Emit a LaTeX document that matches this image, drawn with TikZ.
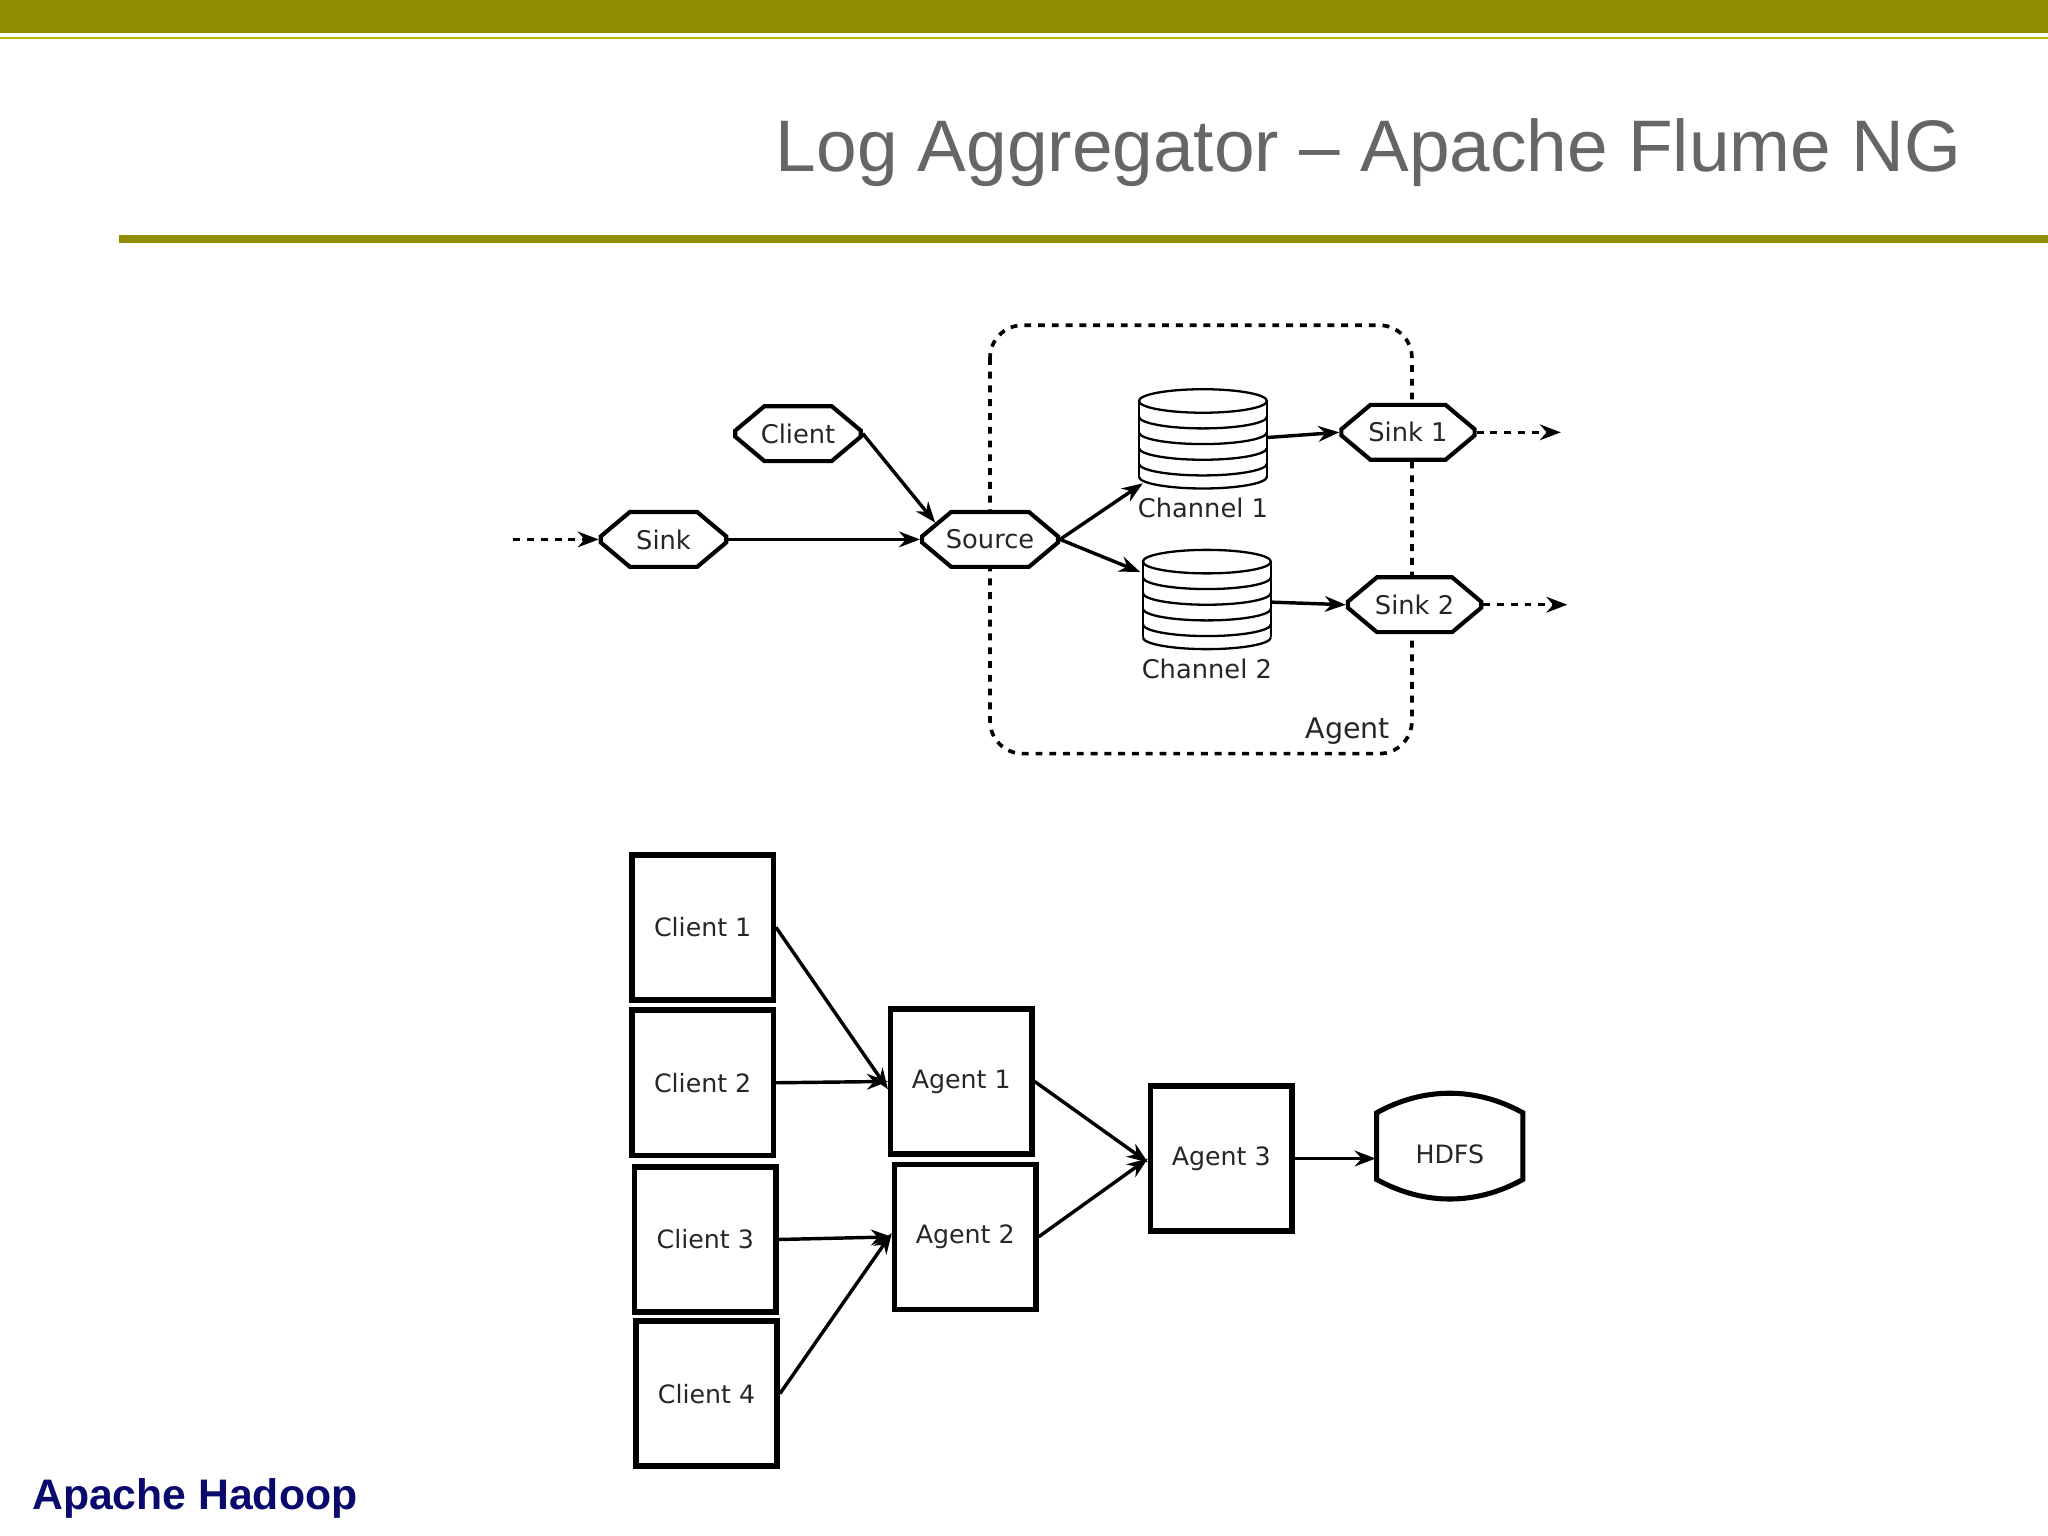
\documentclass[tikz,border=0pt]{standalone}
\usepackage{fontspec}
\setmainfont{DejaVu Sans}
\newfontfamily\arialf{Liberation Sans}
\usetikzlibrary{arrows.meta,shapes.misc}
\definecolor{olive}{HTML}{8E8E00}
\definecolor{navy}{HTML}{0A0A6E}
\tikzset{
  hexnode/.style={draw,line width=0.9pt,chamfered rectangle,chamfered rectangle xsep=0.07cm,chamfered rectangle angle=50,minimum height=0.42cm,inner ysep=0pt,inner xsep=0.06cm,font=\fontsize{5.6pt}{6.5pt}\selectfont,text=black!85,fill=white},
  boxnode/.style={draw,line width=1.2pt,minimum width=1.08cm,minimum height=1.11cm,font=\fontsize{5.5pt}{7pt}\selectfont,text=black!85},
  arr/.style={line width=0.75pt,-{Stealth[length=0.16cm,width=0.12cm]}},
  darr/.style={arr,dash pattern=on 1.5pt off 1.5pt},
  lbl/.style={font=\fontsize{5.6pt}{7pt}\selectfont,text=black!85}
}
\newcommand{\chanstack}[3]{% x, ytop, name
  \fill[white] (#1-49,#2) rectangle (#1+49,#2+60);
  \draw[line width=0.5pt] (#1-49,#2) -- (#1-49,#2+58) (#1+49,#2) -- (#1+49,#2+58);
  \draw[line width=0.5pt] (#1,#2) ellipse[x radius=49,y radius=9];
  \foreach \k in {12,24,36,48,58}{
    \draw[line width=0.5pt] (#1-49,#2+\k) arc[start angle=180,end angle=360,x radius=49,y radius=-9];}
  \coordinate (#3) at (#1,#2+30);
}
\begin{document}
\begin{tikzpicture}[x=0.01cm,y=-0.01cm]
\useasboundingbox (0,0) rectangle (1568,1176);
\fill[olive] (0,0) rectangle (1568,25);
\fill[olive!60!yellow] (0,28) rectangle (1568,30);
\node[anchor=east,text=black!60,font=\arialf\fontsize{15.9pt}{19pt}\selectfont] (title) at (1514,117) {Log Aggregator – Apache Flume NG};
\fill[olive] (91,180) rectangle (1568,186);
\node[anchor=west,inner sep=0pt,text=navy,font=\arialf\bfseries\fontsize{9.3pt}{11pt}\selectfont] (foot) at (24,1147) {Apache Hadoop};

% agent box
\draw[line width=0.8pt,dash pattern=on 1.5pt off 1.5pt,rounded corners=0.25cm] (758,249) rectangle (1081,577);
\node[lbl,font=\fontsize{6.2pt}{7pt}\selectfont] (agentlbl) at (1032,560) {Agent};

\chanstack{921}{307}{ch1}
\chanstack{924}{430}{ch2}
\node[lbl] (ch1l) at (921,389) {Channel 1};
\node[lbl] (ch2l) at (924,512) {Channel 2};
\coordinate (ch1e) at (970,335);
\coordinate (ch1w) at (875,370);
\coordinate (ch2e) at (973,461);
\coordinate (ch2w) at (873,438);

\node[hexnode,minimum width=0.96cm] (sink) at (508,413) {Sink};
\node[hexnode,minimum width=0.96cm] (client) at (611,332) {Client};
\node[hexnode,minimum width=1.04cm] (source) at (758,413) {Source};
\node[hexnode,minimum width=1.02cm] (sink1) at (1078,331) {Sink 1};
\node[hexnode,minimum width=1.02cm] (sink2) at (1083,463) {Sink 2};
\coordinate (in0) at (393,413);
\coordinate (out1) at (1195,331);
\coordinate (out2) at (1200,463);

\draw[darr] (in0) -- (sink.west);
\draw[arr] (sink.east) -- (source.west);
\draw[arr] (client.east) -- (source.north west);
\draw[arr] (source.east) -- (ch1w);
\draw[arr] (source.east) -- (ch2w);
\draw[arr] (ch1e) -- (sink1.west);
\draw[arr] (ch2e) -- (sink2.west);
\draw[darr] (sink1.east) -- (out1);
\draw[darr] (sink2.east) -- (out2);

% bottom
\node[boxnode] (c1) at (538,710) {Client 1};
\node[boxnode] (c2) at (538,829) {Client 2};
\node[boxnode] (c3) at (540,949) {Client 3};
\node[boxnode] (c4) at (541,1067) {Client 4};
\node[boxnode] (a1) at (736,828) {Agent 1};
\node[boxnode] (a2) at (739,947) {Agent 2};
\node[boxnode] (a3) at (935,887) {Agent 3};
\draw[line width=1.1pt,fill=white] (1054,852) .. controls (1090,832) and (1130,832) .. (1166,852) -- (1166,903) .. controls (1130,923) and (1090,923) .. (1054,903) -- cycle;
\node[font=\fontsize{5.5pt}{7pt}\selectfont,text=black!85,minimum width=1.12cm,minimum height=0.6cm] (hdfs) at (1110,884) {HDFS};

\draw[arr] (c1.east) -- ([yshift=-0.06cm]a1.west);
\draw[arr] (c2.east) -- (a1.west);
\draw[arr] (c3.east) -- (a2.west);
\draw[arr] (c4.east) -- ([yshift=0.03cm]a2.west);
\draw[arr] (a1.east) -- ([yshift=-0.03cm]a3.west);
\draw[arr] (a2.east) -- (a3.west);
\draw[arr] (a3.east) -- (hdfs.west |- a3.east);
\end{tikzpicture}
\end{document}
